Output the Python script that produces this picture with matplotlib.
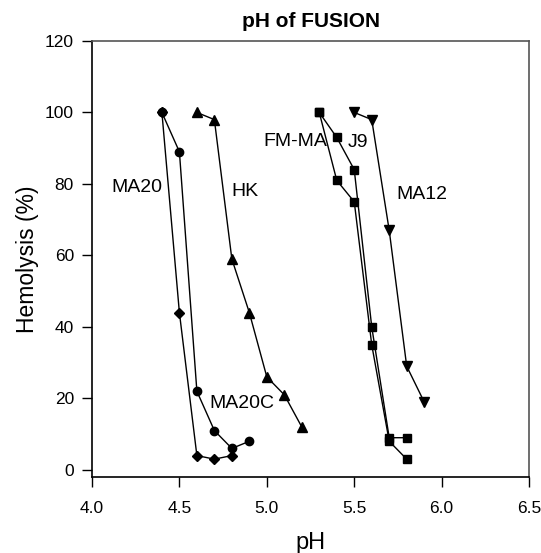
import numpy as np
import matplotlib.pyplot as plt

plt.rcParams['font.family'] = ['Liberation Sans', 'DejaVu Sans']

# Hemolysis (%) versus pH for each peptide
ma20_ph = [4.4, 4.5, 4.6, 4.7, 4.8]
ma20_hem = [100, 44, 4, 3, 4]

ma20c_ph = [4.4, 4.5, 4.6, 4.7, 4.8, 4.9]
ma20c_hem = [100, 89, 22, 11, 6, 8]

hk_ph = [4.6, 4.7, 4.8, 4.9, 5.0, 5.1, 5.2]
hk_hem = [100, 98, 59, 44, 26, 21, 12]

j9_ph = [5.3, 5.4, 5.5, 5.6, 5.7, 5.8]
j9_hem = [100, 93, 84, 40, 9, 9]

fmma_ph = [5.3, 5.4, 5.5, 5.6, 5.7, 5.8]
fmma_hem = [100, 81, 75, 35, 8, 3]

ma12_ph = [5.5, 5.6, 5.7, 5.8, 5.9]
ma12_hem = [100, 98, 67, 29, 19]

# curve labels: text, x, y
labels = [("MA20", 4.11, 79), ("HK", 4.80, 78), ("MA20C", 4.67, 18.5),
          ("FM-MA", 4.98, 92), ("J9", 5.46, 91.5), ("MA12", 5.74, 77)]

fig = plt.figure(figsize=(5.41, 5.53), dpi=100)
ax = fig.add_axes([0.170, 0.1374, 0.808, 0.7885])

style = dict(color='black', linewidth=1.0)
ax.plot(ma20_ph, ma20_hem, marker='D', markersize=5.5, **style)
ax.plot(ma20c_ph, ma20c_hem, marker='o', markersize=6, **style)
ax.plot(hk_ph, hk_hem, marker='^', markersize=6.5, **style)
ax.plot(j9_ph, j9_hem, marker='s', markersize=5.5, **style)
ax.plot(fmma_ph, fmma_hem, marker='s', markersize=5.5, **style)
ax.plot(ma12_ph, ma12_hem, marker='v', markersize=6.5, **style)

for txt, x, y in labels:
    ax.text(x, y, txt, fontsize=14, ha='left', va='center')

ax.set_xlim(4.0, 6.5)
ax.set_ylim(-2, 120)
ax.set_xticks(np.arange(4.0, 6.51, 0.5))
ax.set_xticklabels([f"{v:.1f}" for v in np.arange(4.0, 6.51, 0.5)])
ax.set_yticks(np.arange(0, 121, 20))
ax.tick_params(direction='out', length=7, width=1, labelsize=12.5, pad=6,
               top=False, right=False)
ax.tick_params(axis='x', pad=10)

for side in ['left', 'bottom', 'top', 'right']:
    ax.spines[side].set_linewidth(1.2)
ax.spines['top'].set_color('#555555')
ax.spines['right'].set_color('#555555')

ax.set_title("pH of FUSION", fontsize=15, fontweight='bold', pad=10)
ax.set_xlabel("pH", fontsize=17, labelpad=12)
ax.set_ylabel("Hemolysis (%)", fontsize=16.5, labelpad=4)

fig.savefig("out.png", dpi=100)
